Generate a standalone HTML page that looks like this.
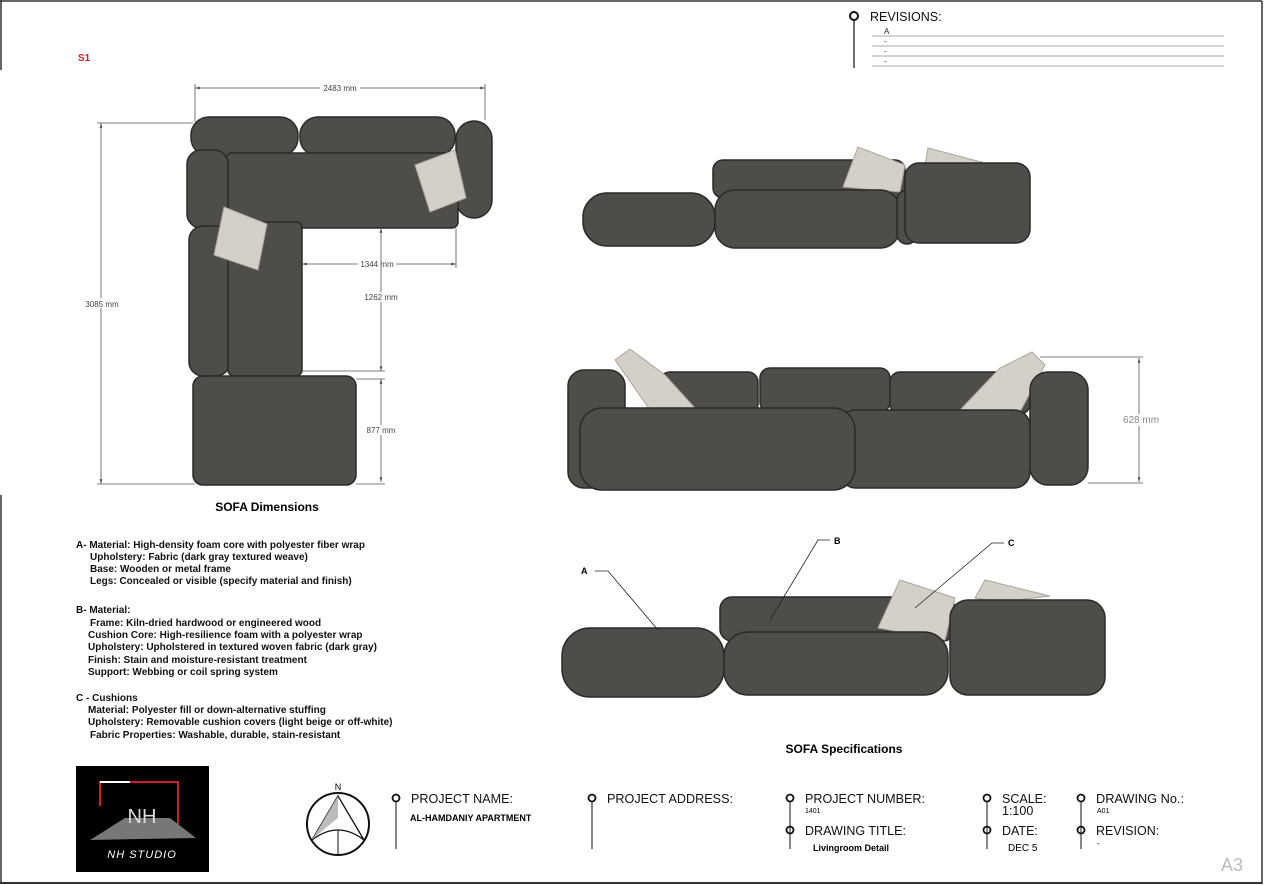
<!DOCTYPE html>
<html><head><meta charset="utf-8"><style>
html,body{margin:0;padding:0;background:#fff;}
svg{display:block;font-family:"Liberation Sans",Arial,sans-serif;}
.s{fill:#4f4d49;stroke:#2b2a27;stroke-width:1.5;}
.p{fill:#d4d0c7;stroke:#aaa69d;stroke-width:1;}
.d{stroke:#555;stroke-width:0.8;fill:none;}
.dt{font-size:8px;fill:#444;}
.sp{font-size:10px;font-weight:bold;fill:#111;}
.tb{font-size:12.5px;fill:#111;}
</style></head><body>
<svg width="1266" height="885" viewBox="0 0 1266 885">
<defs><marker id="a" viewBox="0 0 10 10" refX="10" refY="5" markerWidth="6" markerHeight="6" orient="auto-start-reverse"><path d="M0,2 L10,5 L0,8 z" fill="#555"/></marker></defs>
<rect x="0" y="0" width="1266" height="885" fill="#fff"/>
<line x1="0" y1="1" x2="1262" y2="1" stroke="#333" stroke-width="1.5"/>
<line x1="1262" y1="1" x2="1262" y2="884" stroke="#333" stroke-width="1.5"/>
<line x1="0" y1="883" x2="1262" y2="883" stroke="#333" stroke-width="2"/>
<line x1="1" y1="0" x2="1" y2="70" stroke="#333" stroke-width="1.5"/>
<line x1="1" y1="495" x2="1" y2="884" stroke="#333" stroke-width="1.5"/>

<circle cx="854" cy="16" r="4" fill="none" stroke="#111" stroke-width="2"/>
<line x1="854" y1="20" x2="854" y2="68" stroke="#111" stroke-width="1.2"/>
<text x="870" y="21" class="tb">REVISIONS:</text>
<g stroke="#888" stroke-width="0.8"><line x1="872" y1="36" x2="1224" y2="36"/><line x1="872" y1="46" x2="1224" y2="46"/><line x1="872" y1="56" x2="1224" y2="56"/><line x1="872" y1="66" x2="1224" y2="66"/></g>
<g font-size="8" fill="#222"><text x="884" y="34">A</text><text x="884" y="44">-</text><text x="884" y="54">-</text><text x="884" y="64">-</text></g>

<text x="78" y="61" font-size="10" font-weight="bold" fill="#d0202a">S1</text>

<rect class="s" x="191" y="117" width="107" height="39" rx="18"/>
<rect class="s" x="300" y="117" width="155" height="39" rx="18"/>
<rect class="s" x="456" y="121" width="36" height="97" rx="18"/>
<rect class="s" x="226" y="153" width="232" height="75" rx="6"/>
<rect class="s" x="187" y="150" width="41" height="78" rx="14"/>
<rect class="s" x="189" y="226" width="41" height="150" rx="14"/>
<rect class="s" x="228" y="222" width="74" height="154" rx="6"/>
<rect class="s" x="193" y="376" width="163" height="109" rx="10"/>
<polygon class="p" points="415,165 455,150 466,198 430,212"/>
<polygon class="p" points="224,207 267,224 258,270 214,255"/>
<line class="d" x1="195" y1="88" x2="485" y2="88" marker-start="url(#a)" marker-end="url(#a)"/>
<line class="d" x1="195" y1="84" x2="195" y2="122"/><line class="d" x1="485" y1="84" x2="485" y2="120"/>
<rect x="320" y="83" width="40" height="10" fill="#fff"/><text x="340" y="91" class="dt" text-anchor="middle">2483 mm</text>
<line class="d" x1="101" y1="123" x2="101" y2="484" marker-start="url(#a)" marker-end="url(#a)"/>
<line class="d" x1="97" y1="123" x2="193" y2="123"/><line class="d" x1="97" y1="484" x2="195" y2="484"/>
<rect x="82" y="298" width="40" height="10" fill="#fff"/><text x="102" y="307" class="dt" text-anchor="middle">3085 mm</text>
<line class="d" x1="302" y1="264" x2="456" y2="264" marker-start="url(#a)" marker-end="url(#a)"/>
<line class="d" x1="456" y1="228" x2="456" y2="268"/>
<rect x="358" y="259" width="38" height="10" fill="#fff"/><text x="377" y="267" class="dt" text-anchor="middle">1344 mm</text>
<line class="d" x1="381" y1="228" x2="381" y2="371" marker-start="url(#a)" marker-end="url(#a)"/>
<line class="d" x1="302" y1="371" x2="385" y2="371"/>
<rect x="362" y="292" width="38" height="10" fill="#fff"/><text x="381" y="300" class="dt" text-anchor="middle">1262 mm</text>
<line class="d" x1="381" y1="379" x2="381" y2="482" marker-start="url(#a)" marker-end="url(#a)"/>
<line class="d" x1="356" y1="379" x2="385" y2="379"/><line class="d" x1="356" y1="484" x2="385" y2="484"/>
<rect x="364" y="425" width="34" height="10" fill="#fff"/><text x="381" y="433" class="dt" text-anchor="middle">877 mm</text>
<text x="267" y="511" font-size="12" font-weight="bold" text-anchor="middle">SOFA Dimensions</text>

<g class="sp">
<text x="76" y="548">A- Material: High-density foam core with polyester fiber wrap</text>
<text x="90" y="560">Upholstery: Fabric (dark gray textured weave)</text>
<text x="90" y="572">Base: Wooden or metal frame</text>
<text x="90" y="584">Legs: Concealed or visible (specify material and finish)</text>
<text x="76" y="613">B- Material:</text>
<text x="90" y="626">Frame: Kiln-dried hardwood or engineered wood</text>
<text x="88" y="638">Cushion Core: High-resilience foam with a polyester wrap</text>
<text x="88" y="650">Upholstery: Upholstered in textured woven fabric (dark gray)</text>
<text x="88" y="663">Finish: Stain and moisture-resistant treatment</text>
<text x="88" y="675">Support: Webbing or coil spring system</text>
<text x="76" y="701">C - Cushions</text>
<text x="88" y="713">Material: Polyester fill or down-alternative stuffing</text>
<text x="88" y="725">Upholstery: Removable cushion covers (light beige or off-white)</text>
<text x="90" y="738">Fabric Properties: Washable, durable, stain-resistant</text>
</g>

<rect class="s" x="713" y="160" width="192" height="38" rx="10"/>
<polygon class="p" points="843,187 858,147 905,165 900,192"/>
<polygon class="p" points="925,165 928,148 985,163 960,170"/>
<rect class="s" x="583" y="193" width="132" height="53" rx="24"/>
<rect class="s" x="715" y="190" width="185" height="58" rx="20"/>
<rect class="s" x="897" y="190" width="20" height="54" rx="10"/>
<rect class="s" x="905" y="163" width="125" height="80" rx="14"/>

<rect class="s" x="660" y="372" width="98" height="42" rx="10"/>
<rect class="s" x="760" y="368" width="130" height="44" rx="10"/>
<rect class="s" x="890" y="372" width="140" height="42" rx="10"/>
<rect class="s" x="568" y="370" width="57" height="118" rx="16"/>
<polygon class="p" points="615,360 630,349 665,375 695,408 650,410"/>
<polygon class="p" points="960,410 1000,368 1032,352 1045,365 1020,412"/>
<rect class="s" x="840" y="410" width="190" height="78" rx="16"/>
<rect class="s" x="580" y="408" width="275" height="82" rx="22"/>
<rect class="s" x="1030" y="372" width="58" height="113" rx="18"/>
<line class="d" x1="1040" y1="357" x2="1143" y2="357"/><line class="d" x1="1088" y1="483" x2="1143" y2="483"/>
<line class="d" x1="1139" y1="358" x2="1139" y2="482" marker-start="url(#a)" marker-end="url(#a)"/>
<rect x="1120" y="414" width="42" height="12" fill="#fff"/>
<text x="1141" y="423" font-size="10" fill="#888" text-anchor="middle">628 mm</text>

<rect class="s" x="720" y="597" width="235" height="44" rx="12"/>
<polygon class="p" points="878,628 900,580 955,598 945,640"/>
<polygon class="p" points="975,598 985,580 1050,596 1000,602"/>
<rect class="s" x="562" y="628" width="162" height="69" rx="28"/>
<rect class="s" x="724" y="632" width="224" height="63" rx="24"/>
<rect class="s" x="950" y="600" width="155" height="95" rx="18"/>
<g stroke="#222" stroke-width="0.8" fill="none">
<polyline points="595,571 608,571 658,630"/>
<polyline points="830,540 818,540 770,620"/>
<polyline points="1004,543 992,543 915,608"/>
</g>
<g font-size="9" font-weight="bold"><text x="581" y="574">A</text><text x="834" y="544">B</text><text x="1008" y="546">C</text></g>
<text x="844" y="753" font-size="12" font-weight="bold" text-anchor="middle">SOFA Specifications</text>

<rect x="76" y="766" width="133" height="106" fill="#000"/>
<polyline points="100,806 100,782 178,782 178,830" fill="none" stroke="#c8202a" stroke-width="2"/>
<line x1="100" y1="782" x2="130" y2="782" stroke="#fff" stroke-width="2"/>
<polygon points="90,840 125,818 170,818 196,838" fill="#777"/>
<text x="142" y="823" font-size="20" fill="#ddd" text-anchor="middle">NH</text>
<text x="142" y="858" font-size="11" fill="#fff" font-style="italic" text-anchor="middle" letter-spacing="1">NH STUDIO</text>

<circle cx="338" cy="824" r="31" fill="none" stroke="#111" stroke-width="2"/>
<line x1="338" y1="795" x2="338" y2="854" stroke="#111" stroke-width="1"/>
<path d="M338,796 L312,840 Q338,820 364,840 Z" fill="#fff" stroke="#111" stroke-width="1.3"/>
<path d="M338,796 L312,840 Q325,828 338,818 Z" fill="#bbb"/>
<text x="338" y="790" font-size="9" text-anchor="middle">N</text>

<g stroke="#111" fill="none" stroke-width="1.8">
<circle cx="396" cy="798" r="3.5"/><circle cx="592" cy="798" r="3.5"/><circle cx="790" cy="798" r="3.5"/><circle cx="790" cy="830" r="3.5"/>
<circle cx="987" cy="798" r="3.5"/><circle cx="987" cy="830" r="3.5"/><circle cx="1081" cy="798" r="3.5"/><circle cx="1081" cy="830" r="3.5"/>
</g>
<g stroke="#111" stroke-width="1">
<line x1="396" y1="802" x2="396" y2="849"/><line x1="592" y1="802" x2="592" y2="849"/>
<line x1="790" y1="802" x2="790" y2="849"/><line x1="987" y1="802" x2="987" y2="849"/><line x1="1081" y1="802" x2="1081" y2="849"/>
</g>
<g class="tb">
<text x="411" y="803" textLength="102" lengthAdjust="spacingAndGlyphs">PROJECT NAME:</text>
<text x="607" y="803" textLength="126" lengthAdjust="spacingAndGlyphs">PROJECT ADDRESS:</text>
<text x="805" y="803" textLength="120" lengthAdjust="spacingAndGlyphs">PROJECT NUMBER:</text>
<text x="805" y="835" textLength="101" lengthAdjust="spacingAndGlyphs">DRAWING TITLE:</text>
<text x="1002" y="803">SCALE:</text>
<text x="1002" y="815">1:100</text>
<text x="1002" y="835">DATE:</text>
<text x="1096" y="803" textLength="88" lengthAdjust="spacingAndGlyphs">DRAWING No.:</text>
<text x="1096" y="835">REVISION:</text>
</g>
<text x="410" y="821" font-size="9" font-weight="bold">AL-HAMDANIY APARTMENT</text>
<text x="805" y="813" font-size="7">1401</text>
<text x="1097" y="813" font-size="7">A01</text>
<text x="813" y="851" font-size="9" font-weight="bold">Livingroom Detail</text>
<text x="1008" y="851" font-size="10">DEC 5</text>
<text x="1097" y="846" font-size="8">-</text>
<text x="1221" y="871" font-size="18" fill="#bbb">A3</text>
</svg>
</body></html>
